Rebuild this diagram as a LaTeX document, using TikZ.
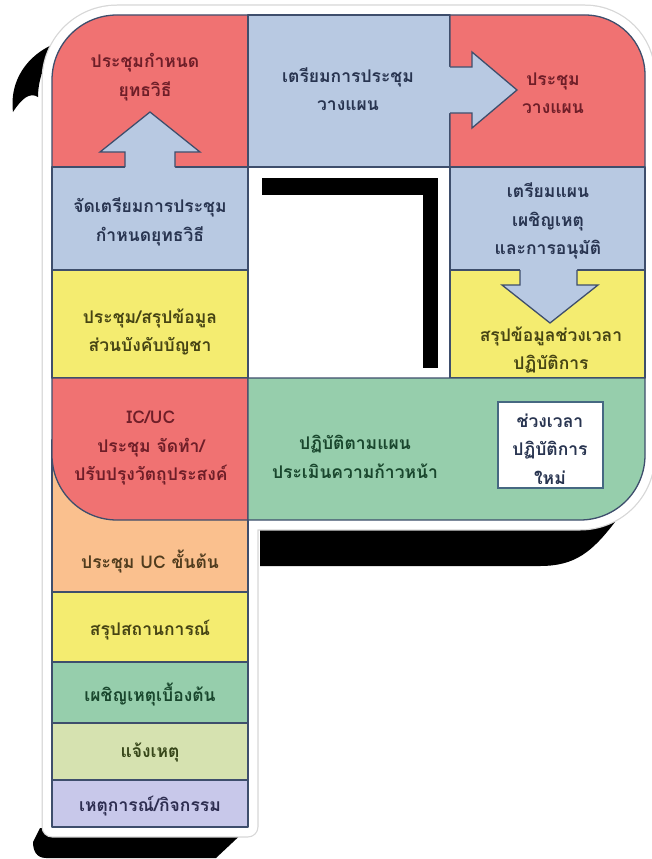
\documentclass[tikz,border=0pt]{standalone}
\usepackage{fontspec}
\newfontfamily\thaifont[Script=Thai]{Loma}
\definecolor{cred}{RGB}{240,114,114}
\definecolor{cblue}{RGB}{184,201,226}
\definecolor{cyel}{RGB}{244,236,112}
\definecolor{cgreen}{RGB}{150,206,172}
\definecolor{corange}{RGB}{250,192,142}
\definecolor{clgreen}{RGB}{214,226,176}
\definecolor{clav}{RGB}{200,200,234}
\definecolor{bordc}{RGB}{62,78,108}
\definecolor{boxbord}{RGB}{70,104,130}
\definecolor{tred}{RGB}{110,30,40}
\definecolor{tblue}{RGB}{40,52,80}
\definecolor{tyel}{RGB}{70,68,20}
\definecolor{tgreen}{RGB}{25,70,45}
\definecolor{torange}{RGB}{80,60,30}
\definecolor{tlgreen}{RGB}{55,70,25}
\definecolor{tlav}{RGB}{45,45,80}
\definecolor{bandgray}{RGB}{215,215,215}
\begin{document}
\begin{tikzpicture}[x=1pt,y=-1pt,
  cell/.style={draw=bordc, line width=1.3pt, line join=round},
  lbl/.style={align=center, font=\thaifont\bfseries\fontsize{17.5}{28.5}\selectfont, inner sep=0pt},
  blockarrow/.style={fill=cblue, draw=bordc, line width=1.3pt, line join=miter},
  shadow/.style={fill=black}]
\useasboundingbox (0,0) rectangle (651,859);
\fill[white] (0,0) rectangle (651,859);
% ---- shadows ----
\fill[shadow] (13,112) .. controls (9,80) and (28,55) .. (54,44) -- (48,60)
   .. controls (41,72) and (38,85) .. (38,97) .. controls (30,92) and (22,98) .. cycle;
\fill[shadow] (260,524) -- (615,522) .. controls (592,552) and (575,566) .. (540,566) -- (260,566) -- cycle;
\fill[shadow] (40,828) -- (248,828) -- (216,858) -- (46,858) .. controls (36,858) and (33,850) .. (33,842) -- cycle;
% ---- white band ----
\draw[line width=21pt, draw=bandgray, line join=round]
  (52,827) -- (52,80) .. controls (52,44) and (81,15) .. (117,15) -- (585,15)
  .. controls (618,15) and (645,42) .. (645,75) -- (645,455)
  .. controls (645,491) and (616,520) .. (580,520) -- (248,520) -- (248,827) -- cycle;
\draw[line width=18.5pt, draw=white, fill=white, line join=round]
  (52,827) -- (52,80) .. controls (52,44) and (81,15) .. (117,15) -- (585,15)
  .. controls (618,15) and (645,42) .. (645,75) -- (645,455)
  .. controls (645,491) and (616,520) .. (580,520) -- (248,520) -- (248,827) -- cycle;
\fill[white] (248,167) rectangle (450,378);
\fill[shadow] (262,178) rectangle (438,195);
\fill[shadow] (423,178) rectangle (438,368);
% ---- cells ----
\filldraw[cell, fill=cred] (52,167) -- (52,80) .. controls (52,44) and (81,15) .. (117,15) -- (248,15) -- (248,167) -- cycle;
\filldraw[cell, fill=cblue] (248,15) rectangle (450,167);
\filldraw[cell, fill=cred] (450,15) -- (585,15) .. controls (618,15) and (645,42) .. (645,75) -- (645,167) -- (450,167) -- cycle;
\filldraw[cell, fill=cblue] (52,167) rectangle (248,270);
\filldraw[cell, fill=cyel] (52,270) rectangle (248,378);
\filldraw[cell, fill=corange] (52,440) rectangle (248,592);
\filldraw[cell, fill=cred] (52,378) -- (52,455) .. controls (52,491) and (81,520) .. (117,520) -- (248,520) -- (248,378) -- cycle;
\filldraw[cell, fill=cyel] (52,592) rectangle (248,662);
\filldraw[cell, fill=cgreen] (52,662) rectangle (248,723);
\filldraw[cell, fill=clgreen] (52,723) rectangle (248,780);
\filldraw[cell, fill=clav] (52,780) rectangle (248,827);
\filldraw[cell, fill=cblue] (450,167) rectangle (645,270);
\filldraw[cell, fill=cyel] (450,270) rectangle (645,378);
\filldraw[cell, fill=cgreen] (248,378) -- (645,378) -- (645,455) .. controls (645,491) and (616,520) .. (580,520) -- (248,520) -- cycle;
\filldraw[draw=boxbord, line width=1.6pt, fill=white] (498,402) rectangle (603,488);
% ---- block arrows ----
\fill[cblue] (125,169) -- (125,152) -- (100,152) -- (150,112) -- (200,152) -- (175,152) -- (175,169) -- cycle;
\draw[blockarrow, fill=none] (125,167) -- (125,152) -- (100,152) -- (150,112) -- (200,152) -- (175,152) -- (175,167);
\fill[cblue] (448,67) -- (472,67) -- (472,52) -- (517,90) -- (472,128) -- (472,113) -- (448,113) -- cycle;
\draw[blockarrow, fill=none] (450,67) -- (472,67) -- (472,52) -- (517,90) -- (472,128) -- (472,113) -- (450,113);
\fill[cblue] (520,268) -- (520,285) -- (502,285) -- (550,323) -- (598,285) -- (577,285) -- (577,268) -- cycle;
\draw[blockarrow, fill=none] (520,270) -- (520,285) -- (502,285) -- (550,323) -- (598,285) -- (577,285) -- (577,270);
% ---- labels ----
\node[lbl, text=tred] (t1) at (145,77) {ประชุมกำหนด\\ยุทธวิธี};
\node[lbl, text=tblue] (t2) at (348,89) {เตรียมการประชุม\\วางแผน};
\node[lbl, text=tred] (t3) at (553,93) {ประชุม\\วางแผน};
\node[lbl, text=tblue] (t4) at (150,222) {จัดเตรียมการประชุม\\กำหนดยุทธวิธี};
\node[lbl, text=tyel] (t5) at (150,332) {ประชุม/สรุปข้อมูล\\ส่วนบังคับบัญชา};
\node[lbl, text=tred] (t6) at (151,448) {IC/UC\\ประชุม จัดทำ/\\ปรับปรุงวัตถุประสงค์};
\node[lbl, text=torange] (t7) at (150,562) {ประชุม UC ขั้นต้น};
\node[lbl, text=tyel] (t8) at (150,630) {สรุปสถานการณ์};
\node[lbl, text=tgreen] (t9) at (150,695) {เผชิญเหตุเบื้องต้น};
\node[lbl, text=tlgreen] (t10) at (150,752) {แจ้งเหตุ};
\node[lbl, text=tlav] (t11) at (150,806) {เหตุการณ์/กิจกรรม};
\node[lbl, text=tblue] (t12) at (548,221) {เตรียมแผน\\เผชิญเหตุ\\และการอนุมัติ};
\node[lbl, text=tyel] (t13) at (551,350) {สรุปข้อมูลช่วงเวลา\\ปฏิบัติการ};
\node[lbl, text=tgreen] (t14) at (355,457) {ปฏิบัติตามแผน\\ประเมินความก้าวหน้า};
\node[lbl, text=tblue] (t15) at (550,449) {ช่วงเวลา\\ปฏิบัติการ\\ใหม่};
\end{tikzpicture}
\end{document}
